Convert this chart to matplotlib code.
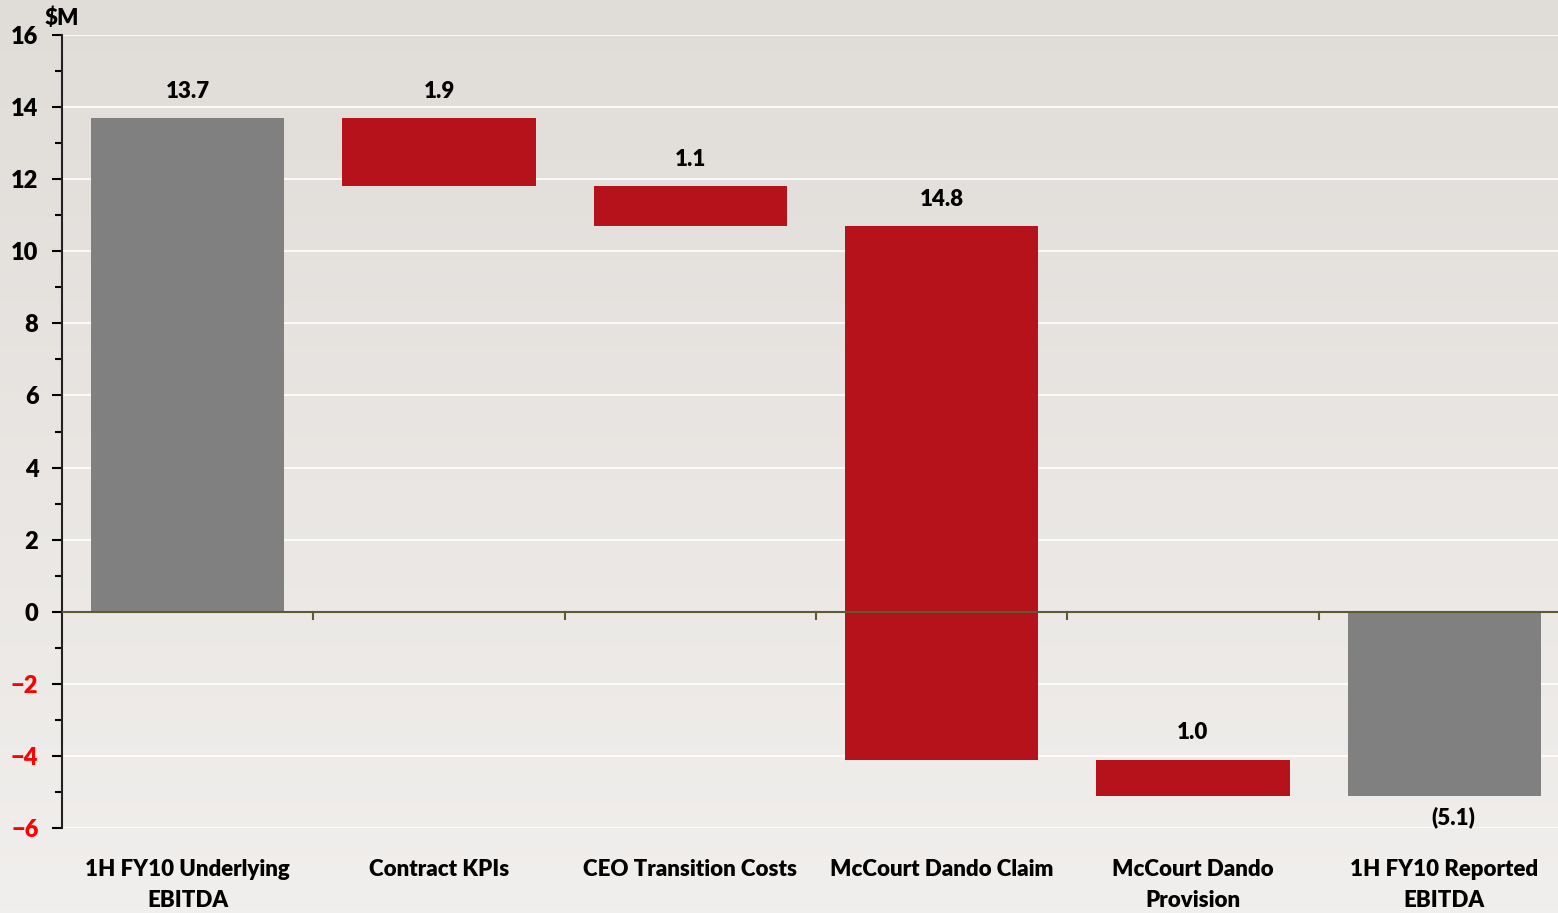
import numpy as np
import matplotlib
matplotlib.use("Agg")
import matplotlib.pyplot as plt

plt.rcParams['font.family'] = ['Lato', 'DejaVu Sans']

categories = ["1H FY10 Underlying\nEBITDA", "Contract KPIs", "CEO Transition Costs",
              "McCourt Dando Claim", "McCourt Dando\nProvision", "1H FY10 Reported\nEBITDA"]
changes = [13.7, -1.9, -1.1, -14.8, -1.0]
total = -5.1
value_labels = ["13.7", "1.9", "1.1", "14.8", "1.0", "(5.1)"]

GREY = "#808080"
RED = "#b5121b"
W = 1558
H = 913

fig = plt.figure(figsize=(W / 100, H / 100), dpi=100)

# soft vertical background gradient
bg = fig.add_axes([0, 0, 1, 1], zorder=-10)
grad = np.linspace(0, 1, 256).reshape(-1, 1)
top_c = np.array([224, 220, 216]) / 255
bot_c = np.array([241, 239, 237]) / 255
img = top_c + (bot_c - top_c) * grad[:, :, None]
bg.imshow(img, aspect="auto", extent=[0, 1, 0, 1], origin="upper")
bg.axis("off")

ax = fig.add_axes([62 / W, 1 - 828 / H, (1570 - 62) / W, (828 - 35) / H])
ax.set_facecolor("none")

x = np.arange(len(categories))
width = 0.77

# waterfall bars
bottoms, heights, colors = [], [], []
running = 0.0
for i, c in enumerate(changes):
    if i == 0:
        bottoms.append(0.0)
        heights.append(c)
        colors.append(GREY)
    else:
        bottoms.append(running + c)
        heights.append(-c)
        colors.append(RED)
    running += c
bottoms.append(0.0)
heights.append(total)
colors.append(GREY)

ax.bar(x, heights, bottom=bottoms, width=width, color=colors, zorder=3)

TXT = dict(fontsize=16, fontweight="heavy", color="black")

# value labels
for i in range(len(categories)):
    lo = min(bottoms[i], bottoms[i] + heights[i])
    hi = max(bottoms[i], bottoms[i] + heights[i])
    if i == len(categories) - 1:
        ax.text(x[i] + 0.036, lo - 0.3, value_labels[i], ha="center", va="top", **TXT)
    else:
        ax.text(x[i], hi + 0.45, value_labels[i], ha="center", va="bottom", **TXT)

ax.set_xlim(-0.5, len(categories) - 0.5)
ax.set_ylim(-6, 16)

ax.set_yticks(np.arange(-6, 17, 2))
ax.set_yticks(np.arange(-5, 17, 2), minor=True)
ax.yaxis.grid(True, which="major", color="white", linewidth=1.2, zorder=0)
ax.tick_params(axis="y", which="major", length=7, width=1.5, direction="out",
               labelsize=17, pad=10)
ax.tick_params(axis="y", which="minor", length=5, width=1.5, direction="out")
for lbl, v in zip(ax.get_yticklabels(), np.arange(-6, 17, 2)):
    lbl.set_fontweight("heavy")
    lbl.set_color("red" if v < 0 else "black")

ax.set_xticks([])
for s in ["top", "right", "bottom"]:
    ax.spines[s].set_visible(False)
ax.spines["left"].set_linewidth(1.5)
ax.spines["left"].set_color("#222222")

# zero baseline with category separator ticks
ax.axhline(0, color="#5c5c30", linewidth=1.5, zorder=4)
for b in np.arange(0.5, len(categories) - 0.5, 1.0):
    ax.plot([b, b], [0, -0.2], color="#5c5c30", linewidth=1.5, zorder=4, clip_on=False)

# category labels below the plot
for i, cat in enumerate(categories):
    ax.text(x[i], -6.85, cat, ha="center", va="top", linespacing=1.6, **TXT)

fig.text(62 / W, 1 - 18 / H, "$M", ha="center", va="center", **TXT)

fig.savefig("out.png", dpi=100)
